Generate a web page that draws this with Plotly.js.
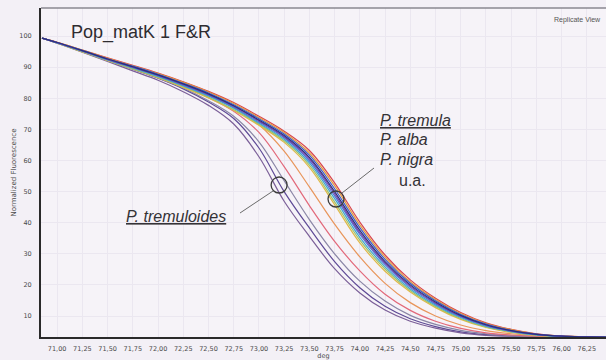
<!DOCTYPE html>
<html>
<head>
<meta charset="utf-8">
<script src="https://cdn.plot.ly/plotly-3.0.1.min.js"></script>
<style>
  html, body { margin: 0; padding: 0; background: #f3f0f6; }
  #chart { width: 606px; height: 360px; }
</style>
</head>
<body>
<div id="chart"></div>
<script>
// Melt temperature grid (deg C)
const temps = [70.85, 71.00, 71.25, 71.50, 71.75, 72.00, 72.25, 72.50, 72.75, 73.00, 73.25, 73.50,
               73.75, 74.00, 74.25, 74.50, 74.75, 75.00, 75.25, 75.50, 75.75, 76.00, 76.25, 76.45];

const xTickVals = [71.00, 71.25, 71.50, 71.75, 72.00, 72.25, 72.50, 72.75, 73.00, 73.25, 73.50,
                   73.75, 74.00, 74.25, 74.50, 74.75, 75.00, 75.25, 75.50, 75.75, 76.00, 76.25];
const xTickText = ['71,00', '71,25', '71,50', '71,75', '72,00', '72,25', '72,50', '72,75', '73,00', '73,25', '73,50',
                   '73,75', '74,00', '74,25', '74,50', '74,75', '75,00', '75,25', '75,50', '75,75', '76,00', '76,25'];
const yTickVals = [10, 20, 30, 40, 50, 60, 70, 80, 90, 100];

// P. tremula / P. alba / P. nigra u.a. — main cluster of normalized fluorescence curves
const mainCurve1 = [99.3, 98.0, 95.5, 93.0, 90.6, 88.1, 85.3, 82.2, 78.6, 74.2, 69.4, 63.2, 52.8, 40.2, 29.6, 21.6, 15.7, 11.1, 7.8, 5.7, 4.3, 3.6, 3.3, 3.2];
const mainCurve2 = [99.3, 98.0, 95.5, 92.8, 90.4, 87.9, 85.1, 82.0, 78.3, 73.8, 69.0, 62.4, 51.9, 39.3, 28.9, 21.0, 15.3, 10.8, 7.6, 5.6, 4.2, 3.6, 3.3, 3.2];
const mainCurve3 = [99.3, 97.9, 95.4, 92.7, 90.3, 87.7, 84.8, 81.7, 77.9, 73.4, 68.5, 61.7, 50.9, 38.4, 28.2, 20.5, 14.9, 10.5, 7.4, 5.4, 4.2, 3.5, 3.3, 3.2];
const mainCurve4 = [99.3, 97.9, 95.3, 92.6, 90.1, 87.5, 84.6, 81.4, 77.6, 73.0, 68.0, 61.0, 50.0, 37.5, 27.5, 20.0, 14.5, 10.2, 7.2, 5.3, 4.1, 3.5, 3.3, 3.2];
const mainCurve5 = [99.3, 97.9, 95.2, 92.5, 90.0, 87.4, 84.4, 81.2, 77.4, 72.7, 67.6, 60.5, 49.3, 36.8, 27.0, 19.6, 14.2, 10.0, 7.1, 5.2, 4.1, 3.5, 3.3, 3.2];
const mainCurve6 = [99.3, 97.8, 95.2, 92.4, 89.9, 87.2, 84.2, 81.0, 77.1, 72.4, 67.3, 59.9, 48.6, 36.2, 26.5, 19.2, 13.9, 9.8, 6.9, 5.1, 4.0, 3.5, 3.3, 3.2];
const mainCurve7 = [99.3, 97.8, 95.1, 92.3, 89.7, 87.0, 84.0, 80.7, 76.8, 72.0, 66.8, 59.2, 47.7, 35.3, 25.8, 18.7, 13.5, 9.5, 6.7, 5.0, 3.9, 3.4, 3.3, 3.2];
const mainCurve8 = [99.3, 97.8, 95.0, 92.2, 89.5, 86.8, 83.8, 80.4, 76.4, 71.7, 66.3, 58.5, 46.7, 34.4, 25.1, 18.2, 13.1, 9.2, 6.5, 4.9, 3.9, 3.4, 3.3, 3.2];
const mainCurve9 = [99.3, 97.7, 94.9, 92.1, 89.4, 86.6, 83.5, 80.1, 76.1, 71.3, 65.8, 57.8, 45.8, 33.5, 24.4, 17.7, 12.7, 8.9, 6.3, 4.7, 3.8, 3.4, 3.3, 3.2];

// P. tremuloides and other early-melting curves
const earlyCurve1 = [99.3, 97.8, 95.0, 92.2, 89.3, 86.4, 83.0, 78.8, 73.5, 64.0, 50.0, 38.3, 27.5, 19.1, 13.1, 9.1, 6.6, 4.9, 4.0, 3.6, 3.4, 3.3, 3.2, 3.2];
const earlyCurve2 = [99.3, 97.7, 94.8, 91.8, 88.8, 85.8, 82.1, 77.7, 71.7, 61.2, 46.9, 35.6, 25.2, 17.4, 11.9, 8.3, 6.1, 4.6, 3.8, 3.5, 3.4, 3.3, 3.2, 3.2];
const earlyCurve3 = [99.3, 97.8, 95.0, 92.2, 89.4, 86.5, 83.3, 79.2, 74.2, 66.0, 53.5, 41.0, 30.0, 21.2, 14.8, 10.2, 7.3, 5.4, 4.3, 3.7, 3.4, 3.3, 3.2, 3.2];
const earlyCurve4 = [99.3, 97.9, 95.2, 92.4, 89.7, 86.9, 83.8, 80.2, 75.8, 69.0, 58.0, 45.5, 34.0, 24.5, 17.0, 11.8, 8.3, 6.0, 4.6, 3.9, 3.5, 3.3, 3.2, 3.2];
const earlyCurve5 = [99.3, 97.9, 95.2, 92.5, 89.9, 87.2, 84.2, 80.9, 77.0, 71.5, 63.0, 51.5, 39.5, 29.0, 20.5, 14.3, 10.0, 7.1, 5.3, 4.3, 3.7, 3.4, 3.2, 3.2];

const earlySeries = [
  { y: earlyCurve1, color: '#5e4a96' },
  { y: earlyCurve2, color: '#7b5f98' },
  { y: earlyCurve3, color: '#8a86a6' },
  { y: earlyCurve4, color: '#e2687a' },
  { y: earlyCurve5, color: '#e8955a' }
];
const mainSeries = [
  { y: mainCurve1, color: '#d8454e' },
  { y: mainCurve2, color: '#e49a3c' },
  { y: mainCurve3, color: '#3a5cc8' },
  { y: mainCurve9, color: '#e0b848' },
  { y: mainCurve8, color: '#9cc46a' },
  { y: mainCurve7, color: '#3fa6d2' },
  { y: mainCurve6, color: '#4b74d6' },
  { y: mainCurve5, color: '#7a3ea6' },
  { y: mainCurve4, color: '#27307e' }
];

const traces = [];
earlySeries.concat(mainSeries).forEach(s => {
  traces.push({
    type: 'scatter', mode: 'lines', x: temps, y: s.y,
    line: { color: s.color, width: 1.2, shape: 'spline', smoothing: 1 },
    hoverinfo: 'skip', showlegend: false
  });
});

// plot box in pixels: left 41, right 606, top 8, bottom 337
const W = 606, H = 360, L = 41, R = 0, T = 8, B = 23;
const px = v => (v - L) / (W - L - R);
const py = v => (H - B - v) / (H - T - B);

const textFont = { family: 'Liberation Sans, Arial, sans-serif', size: 16, color: '#343236' };
const annotations = [
  { text: 'Pop_matK 1 F&R', x: px(69), y: py(32), xanchor: 'left', yanchor: 'middle',
    font: { family: 'Liberation Sans, Arial, sans-serif', size: 18, color: '#2e2c30' } },
  { text: 'Replicate View', x: px(603), y: py(20), xanchor: 'right', yanchor: 'middle',
    font: { family: 'Liberation Sans, Arial, sans-serif', size: 7, color: '#555' } },
  { text: '<u><i>P. tremula</i></u>', x: px(378), y: py(120), xanchor: 'left', yanchor: 'middle', font: textFont },
  { text: '<i>P. alba</i>', x: px(378), y: py(140), xanchor: 'left', yanchor: 'middle', font: textFont },
  { text: '<i>P. nigra</i>', x: px(378), y: py(160), xanchor: 'left', yanchor: 'middle', font: textFont },
  { text: 'u.a.', x: px(397), y: py(180), xanchor: 'left', yanchor: 'middle', font: textFont },
  { text: '<u><i>P. tremuloides</i></u>', x: px(124), y: py(216), xanchor: 'left', yanchor: 'middle', font: textFont }
].map(a => Object.assign({ xref: 'paper', yref: 'paper', showarrow: false }, a));

const circleLine = { color: '#3c3c3c', width: 1.3 };
const shapes = [
  { type: 'circle', xref: 'x', yref: 'y', xsizemode: 'pixel', ysizemode: 'pixel',
    xanchor: 73.20, yanchor: 52.1, x0: -8, x1: 8, y0: -8, y1: 8, line: circleLine },
  { type: 'circle', xref: 'x', yref: 'y', xsizemode: 'pixel', ysizemode: 'pixel',
    xanchor: 73.764, yanchor: 47.6, x0: -8, x1: 8, y0: -8, y1: 8, line: circleLine },
  { type: 'line', xref: 'paper', yref: 'paper', x0: px(273), y0: py(191), x1: px(240), y1: py(213),
    line: { color: '#6a6a6a', width: 1 } },
  { type: 'line', xref: 'paper', yref: 'paper', x0: px(342), y0: py(193), x1: px(374), y1: py(168),
    line: { color: '#6a6a6a', width: 1 } },
  // top frame line across the whole width
  { type: 'line', xref: 'paper', yref: 'paper', x0: 0, y0: 1, x1: 1, y1: 1,
    line: { color: '#8a8890', width: 1.5 } }
];

const tickFont = { family: 'DejaVu Sans, sans-serif', size: 6.5, color: '#4a4a4a' };
const layout = {
  width: W, height: H,
  margin: { l: L, r: R, t: T, b: B, pad: 0 },
  paper_bgcolor: '#f3f0f6',
  plot_bgcolor: '#f6f3f8',
  showlegend: false,
  xaxis: {
    range: [70.84, 76.44], tickmode: 'array', tickvals: xTickVals, ticktext: xTickText,
    tickfont: tickFont, ticks: '', ticklabelstandoff: 4, showgrid: true, gridcolor: '#ebe7f0', gridwidth: 1,
    zeroline: false, showline: true, linecolor: '#2a2a2a', linewidth: 2,
    title: { text: 'deg', font: { family: 'DejaVu Sans, sans-serif', size: 6.5, color: '#4a4a4a' }, standoff: 3 },
    fixedrange: true
  },
  yaxis: {
    range: [3.25, 109.0], tickmode: 'array', tickvals: yTickVals,
    tickfont: tickFont, ticks: '', ticklabelstandoff: 6, showgrid: true, gridcolor: '#ebe7f0', gridwidth: 1,
    zeroline: false, showline: true, linecolor: '#2a2a2a', linewidth: 2,
    title: { text: 'Normalized Fluorescence', font: { family: 'DejaVu Sans, sans-serif', size: 7, color: '#4a4a4a' }, standoff: 2 },
    fixedrange: true
  },
  annotations: annotations,
  shapes: shapes
};

Plotly.newPlot('chart', traces, layout, { staticPlot: true, displayModeBar: false });
</script>
</body>
</html>
